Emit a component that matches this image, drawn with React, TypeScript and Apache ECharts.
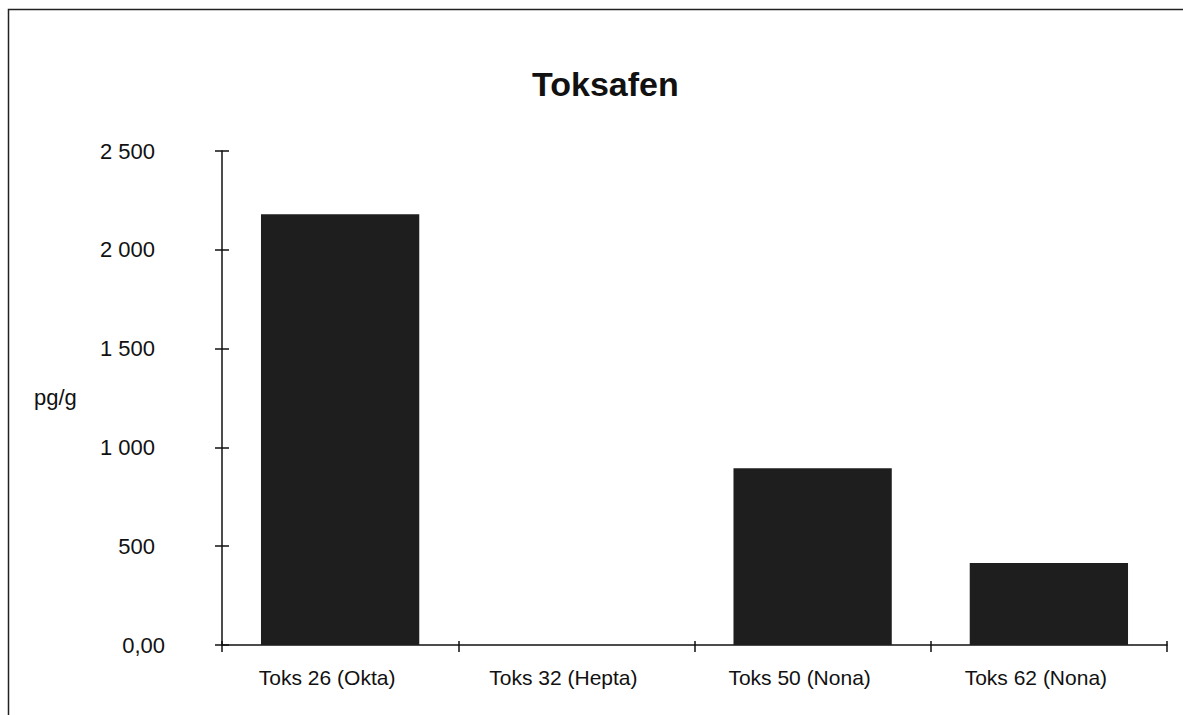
import React, { useEffect, useRef } from "react";
import * as echarts from "echarts";

const categories = ["Toks 26 (Okta)", "Toks 32 (Hepta)", "Toks 50 (Nona)", "Toks 62 (Nona)"];
const values = [2180, 0, 895, 415];
const titleText = "Toksafen";
const unitText = "pg/g";
const yMin = 0;
const yMax = 2500;
const yStep = 500;

const FONT = "'Liberation Sans', Arial, Helvetica, sans-serif";

function fmt(v: number): string {
  if (v === 0) return "{z|0,00}";
  const s = Math.round(v).toString();
  const t = s.replace(/\B(?=(\d{3})+(?!\d))/g, " ");
  return "{n|" + t + "}";
}

export default function App() {
  const ref = useRef<HTMLDivElement>(null);
  useEffect(() => {
    if (!ref.current) return;
    const chart = echarts.init(ref.current, null, { renderer: "svg" });
    const axisLine = { show: true, lineStyle: { color: "#111", width: 1.5 } };
    chart.setOption({
      animation: false,
      backgroundColor: "#fff",
      title: {
        text: titleText,
        left: 527,
        top: 62,
        textStyle: { fontFamily: FONT, fontSize: 34, fontWeight: "bold", color: "#111" },
      },
      graphic: [
        {
          type: "rect",
          shape: { x: 8.5, y: 9.5, width: 1200, height: 720 },
          style: { fill: "none", stroke: "#222", lineWidth: 1.5 },
          silent: true,
        },
        {
          type: "text",
          left: 34,
          top: 386,
          style: { text: unitText, font: `22px ${FONT}`, fill: "#111" },
        },
      ],
      grid: { left: 222, right: 16, top: 151, bottom: 70, containLabel: false },
      xAxis: [
        {
          type: "category",
          data: categories,
          axisLine,
          axisTick: { show: true, length: 7, lineStyle: { color: "#111", width: 1.5 } },
          axisLabel: {
            fontFamily: FONT,
            fontSize: 21,
            color: "#111",
            margin: 22,
            padding: [0, 26, 0, 0],
          },
          splitLine: { show: false },
        },
        {
          type: "category",
          data: categories,
          position: "bottom",
          axisLine: { show: false },
          axisTick: { show: true, inside: true, length: 4, lineStyle: { color: "#111", width: 1.5 } },
          axisLabel: { show: false },
          splitLine: { show: false },
        },
      ],
      yAxis: [
        {
          type: "value",
          min: yMin,
          max: yMax,
          interval: yStep,
          axisLine,
          axisTick: { show: true, length: 7, lineStyle: { color: "#111", width: 1.5 } },
          axisLabel: {
            formatter: (v: number) => fmt(v),
            margin: 57,
            align: "right",
            rich: {
              n: { fontFamily: FONT, fontSize: 22, color: "#111", padding: [0, 10, 0, 0] },
              z: { fontFamily: FONT, fontSize: 22, color: "#111" },
            },
          },
          splitLine: { show: false },
        },
        {
          type: "value",
          min: yMin,
          max: yMax,
          interval: yStep,
          position: "left",
          axisLine: { show: false },
          axisTick: { show: true, inside: true, length: 7, lineStyle: { color: "#111", width: 1.5 } },
          axisLabel: { show: false },
          splitLine: { show: false },
        },
      ],
      series: [
        {
          type: "bar",
          data: values,
          barWidth: "67%",
          itemStyle: { color: "#1e1e1e", borderWidth: 0 },
        },
      ],
    });
    return () => chart.dispose();
  }, []);
  return (
    <div
      ref={ref}
      style={{ position: "fixed", left: 0, top: 0, width: 1183, height: 715, background: "#fff" }}
    />
  );
}
